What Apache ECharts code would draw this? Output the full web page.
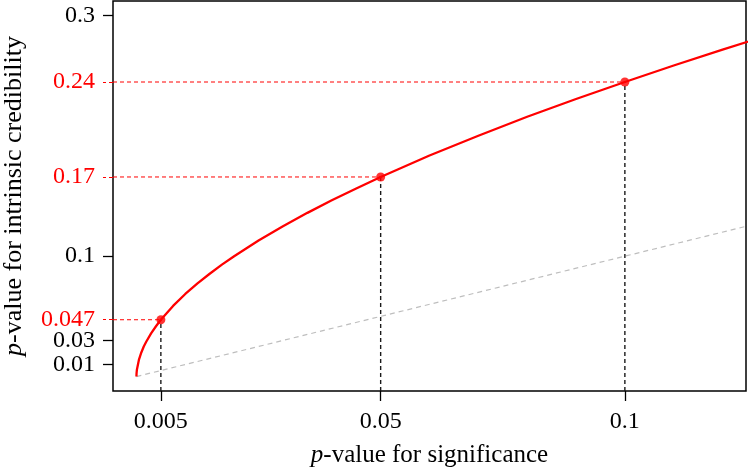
<!DOCTYPE html>
<html>
<head>
<meta charset="utf-8">
<script src="https://cdn.jsdelivr.net/npm/echarts@6/dist/echarts.min.js"></script>
<style>
html,body{margin:0;padding:0;background:#fff;}
#chart{width:748px;height:472px;}
</style>
</head>
<body>
<div id="chart"></div>
<script>
// p-value for significance (x) and p-value for intrinsic credibility (y)
var pSig = [0, 0.00002, 0.0001, 0.0005, 0.001, 0.0015, 0.002, 0.003, 0.004, 0.005, 0.0075, 0.01, 0.0125, 0.015, 0.0175, 0.02, 0.025, 0.03, 0.035, 0.04, 0.045, 0.05, 0.06, 0.07, 0.08, 0.09, 0.1, 0.11, 0.12, 0.13];
var pIC  = [0, 0.0026, 0.0059, 0.0138, 0.0200, 0.0250, 0.0289, 0.0359, 0.0418, 0.0472, 0.0587, 0.0686, 0.0774, 0.0854, 0.0930, 0.1000, 0.1131, 0.1249, 0.1360, 0.1464, 0.1563, 0.1658, 0.1836, 0.2001, 0.2158, 0.2306, 0.2447, 0.2584, 0.2716, 0.2844];
// identity reference line
var diagX = [0, 0.13];
var diagY = [0, 0.13];
// highlighted points
var markX = [0.005, 0.05, 0.1];
var markY = [0.0472, 0.1658, 0.2447];
var markYLabels = ['0.047', '0.17', '0.24'];
// tick values / labels
var xTicks = [0.005, 0.05, 0.1];
var xTickLabels = ['0.005', '0.05', '0.1'];
var yTicks = [0.01, 0.03, 0.1, 0.3];
var yTickLabels = ['0.01', '0.03', '0.1', '0.3'];

var XMIN = -0.0048, XMAX = 0.1248, YMIN = -0.012, YMAX = 0.312;
var FONT = 'Liberation Serif';

function lookup(vals, labels) {
  return function (v) {
    for (var i = 0; i < vals.length; i++) {
      if (Math.abs(vals[i] - v) < 1e-9) return labels[i];
    }
    return '';
  };
}

var curve = pSig.map(function (x, i) { return [x, pIC[i]]; });
var diag = diagX.map(function (x, i) { return [x, diagY[i]]; });
var pts = markX.map(function (x, i) { return [x, markY[i]]; });

var series = [
  { type: 'line', data: diag, symbol: 'none', silent: true, clip: true,
    lineStyle: { color: '#bebebe', width: 1.2, type: [5, 4] }, z: 2 }
];
markX.forEach(function (x, i) {
  series.push({ type: 'line', data: [[x, YMIN], [x, markY[i]]], symbol: 'none', silent: true,
    lineStyle: { color: '#1a1a1a', width: 1.4, type: [4, 3] }, z: 3 });
  series.push({ type: 'line', data: [[XMIN, markY[i]], [x, markY[i]]], symbol: 'none', silent: true,
    lineStyle: { color: '#ff0000', width: 1, type: [4, 3] }, z: 3 });
});
series.push({ type: 'line', data: curve, symbol: 'none', smooth: false, clip: true,
  lineStyle: { color: '#ff0000', width: 2.3, join: 'round' }, z: 4 });
series.push({ type: 'scatter', data: pts, symbol: 'circle', symbolSize: 9,
  itemStyle: { color: '#ff0000' }, z: 5 });

var chart = echarts.init(document.getElementById('chart'), null, { renderer: 'canvas' });
chart.setOption({
  animation: false,
  backgroundColor: '#ffffff',
  grid: { left: 113, right: 2, top: 1, bottom: 81, show: true, borderColor: '#000', borderWidth: 1.5,
    containLabel: false, outerBoundsMode: 'none' },
  xAxis: {
    type: 'value', min: XMIN, max: XMAX,
    name: '{i|p}-value for significance',
    nameLocation: 'middle', nameGap: 52,
    nameTextStyle: {
      fontFamily: FONT, fontSize: 25, color: '#000',
      rich: {
        i: { fontFamily: FONT, fontSize: 25, fontStyle: 'italic', color: '#000' }
      }
    },
    axisLine: { show: false, onZero: false },
    splitLine: { show: false },
    axisTick: { show: true, inside: false, length: 10, customValues: xTicks,
      lineStyle: { color: '#000', width: 1.3 } },
    axisLabel: { customValues: xTicks, formatter: lookup(xTicks, xTickLabels), margin: 19,
      fontFamily: FONT, fontSize: 24, color: '#000' }
  },
  yAxis: [{
    type: 'value', min: YMIN, max: YMAX, position: 'left',
    name: '{i|p}-value for intrinsic credibility',
    nameLocation: 'middle', nameGap: 86, nameRotate: 90,
    nameTextStyle: {
      fontFamily: FONT, fontSize: 26, color: '#000',
      rich: {
        i: { fontFamily: FONT, fontSize: 26, fontStyle: 'italic', color: '#000' }
      }
    },
    axisLine: { show: false, onZero: false },
    splitLine: { show: false },
    axisTick: { show: true, inside: false, length: 10, customValues: yTicks,
      lineStyle: { color: '#000', width: 1.3 } },
    axisLabel: { customValues: yTicks, formatter: lookup(yTicks, yTickLabels), margin: 18,
      fontFamily: FONT, fontSize: 24, color: '#000' }
  }, {
    type: 'value', min: YMIN, max: YMAX, position: 'left', offset: 0,
    axisLine: { show: false, onZero: false },
    splitLine: { show: false },
    axisTick: { show: true, inside: false, length: 10, customValues: markY,
      lineStyle: { color: '#ff0000', width: 1, type: [4, 3] } },
    axisLabel: { customValues: markY, formatter: lookup(markY, markYLabels), margin: 18,
      fontFamily: FONT, fontSize: 24, color: '#ff0000' }
  }],
  series: series
});
</script>
</body>
</html>
